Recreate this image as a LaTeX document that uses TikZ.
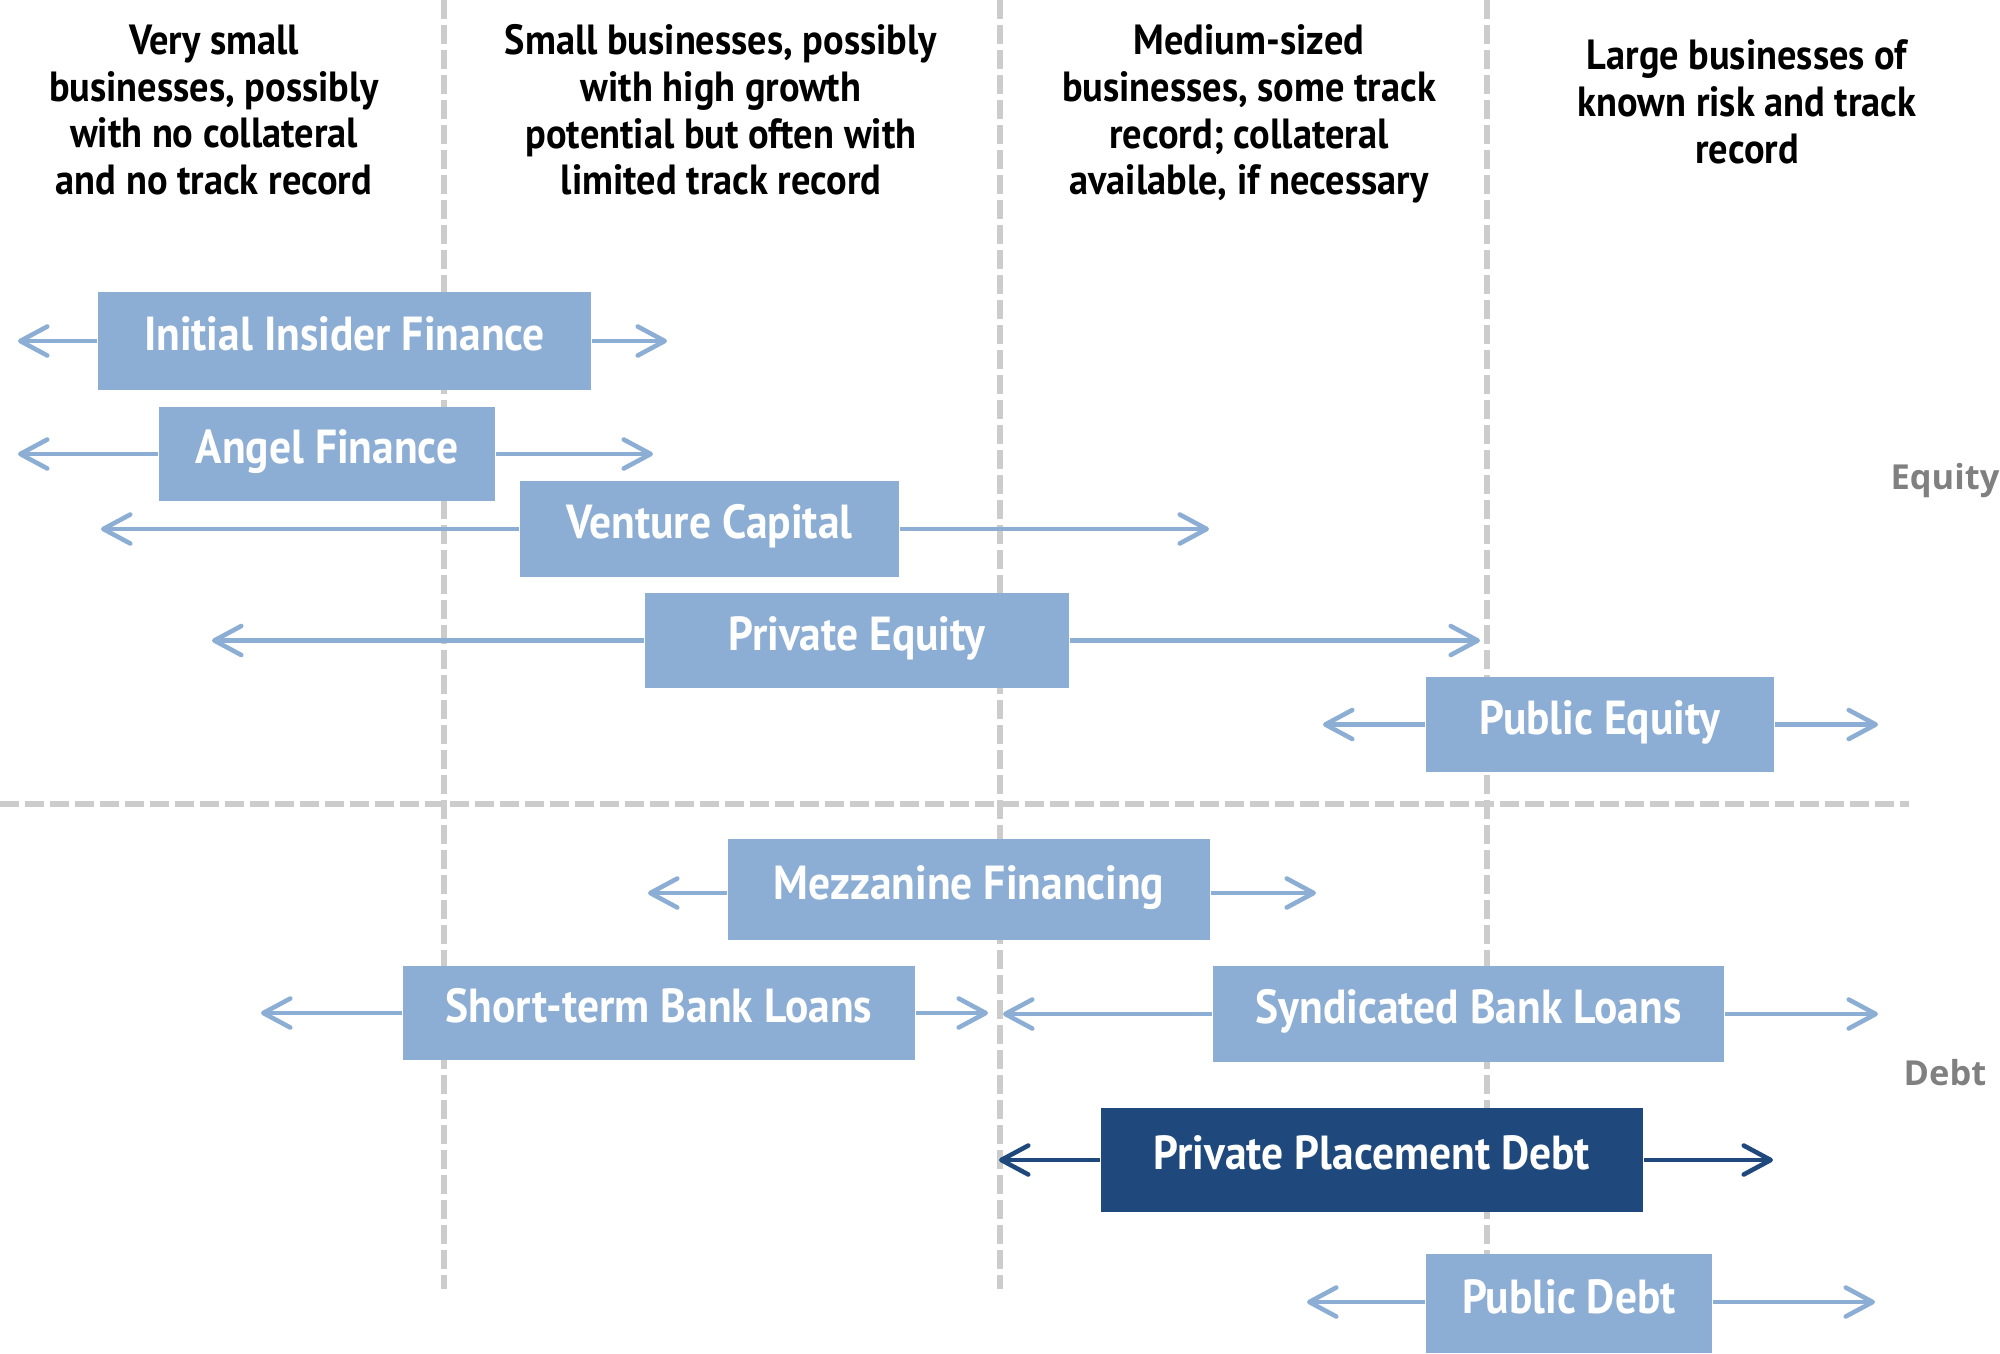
\documentclass[tikz,border=0pt]{standalone}
\usepackage{fontspec}
\setmainfont{PT Sans}
\newfontfamily\hfont[FakeStretch=0.91]{PT Sans}
\newfontfamily\lfont{Open Sans}
\usetikzlibrary{arrows.meta}
\definecolor{lblue}{RGB}{141,174,212}
\definecolor{dblue}{RGB}{31,73,125}
\definecolor{gridgray}{RGB}{204,204,204}
\definecolor{labgray}{RGB}{128,128,128}
\begin{document}
\begin{tikzpicture}[
 gridline/.style={draw=gridgray, line width=1.7pt, dash pattern=on 0.19cm off 0.06cm},
 hdr/.style={align=center, inner sep=0, font=\hfont\bfseries\fontsize{12}{13.3}\selectfont},
 bx/.style={fill=lblue, text=white, inner sep=0, font=\hfont\bfseries\fontsize{13.6}{15}\selectfont, text height=0.32cm, text depth=0.13cm},
 dbx/.style={bx, fill=dblue},
 ar/.style={draw=lblue, line width=1.3pt, -{Straight Barb[length=0.27cm,width=0.29cm,round]}},
 dar/.style={ar, draw=dblue},
 side/.style={inner sep=0, text=labgray, font=\lfont\bfseries\fontsize{9.8}{11}\selectfont},
]
\useasboundingbox (0,0) rectangle (20,-13.53);
% grid
\coordinate (v1t) at (4.44,0);  \coordinate (v1b) at (4.44,-12.89);
\coordinate (v2t) at (10.00,0); \coordinate (v2b) at (10.00,-12.89);
\coordinate (v3t) at (14.87,0); \coordinate (v3b) at (14.87,-12.89);
\coordinate (hl) at (0,-8.04);  \coordinate (hr) at (19.09,-8.04);
\draw[gridline] (v1t) -- (v1b);
\draw[gridline] (v2t) -- (v2b);
\draw[gridline] (v3t) -- (v3b);
\draw[gridline] (hl) -- (hr);
% headers
\node[hdr] (h1) at (2.14,-1.10) {Very small\\businesses, possibly\\with no collateral\\and no track record};
\node[hdr] (h2) at (7.21,-1.10) {Small businesses, possibly\\with high growth\\potential but often with\\limited track record};
\node[hdr] (h3) at (12.49,-1.14) {Medium-sized\\businesses, some track\\record; collateral\\available, if necessary};
\node[hdr] (h4) at (17.47,-1.02) {Large businesses of\\known risk and track\\record};
% side labels
\node[side] (eq) at (19.45,-4.81) {Equity};
\node[side] (db) at (19.45,-10.73) {Debt};
% arrow end points
\coordinate (iifL) at (0.18,-3.41);  \coordinate (iifR) at (6.67,-3.41);
\coordinate (angL) at (0.18,-4.54);  \coordinate (angR) at (6.53,-4.54);
\coordinate (vcL) at (1.01,-5.29);   \coordinate (vcR) at (12.09,-5.29);
\coordinate (peL) at (2.12,-6.405);  \coordinate (peR) at (14.80,-6.405);
\coordinate (pqL) at (13.23,-7.245); \coordinate (pqR) at (18.78,-7.245);
\coordinate (mzL) at (6.48,-8.93);   \coordinate (mzR) at (13.16,-8.93);
\coordinate (stL) at (2.61,-10.13);  \coordinate (stR) at (9.88,-10.13);
\coordinate (syL) at (10.03,-10.14); \coordinate (syR) at (18.78,-10.14);
\coordinate (ppL) at (9.99,-11.60);  \coordinate (ppR) at (17.73,-11.60);
\coordinate (pdL) at (13.07,-13.02); \coordinate (pdR) at (18.75,-13.02);
% boxes
\node[bx, minimum width=4.93cm, minimum height=0.98cm] (iif) at (3.445,-3.41) {Initial Insider Finance};
\node[bx, minimum width=3.36cm, minimum height=0.94cm] (ang) at (3.27,-4.54) {Angel Finance};
\node[bx, minimum width=3.79cm, minimum height=0.96cm] (vc) at (7.095,-5.29) {Venture Capital};
\node[bx, minimum width=4.24cm, minimum height=0.95cm] (pe) at (8.57,-6.405) {Private Equity};
\node[bx, minimum width=3.48cm, minimum height=0.95cm] (pq) at (16.00,-7.245) {Public Equity};
\node[bx, minimum width=4.82cm, minimum height=1.01cm] (mz) at (9.69,-8.895) {Mezzanine Financing};
\node[bx, minimum width=5.12cm, minimum height=0.94cm] (st) at (6.59,-10.13) {Short-term Bank Loans};
\node[bx, minimum width=5.11cm, minimum height=0.96cm] (sy) at (14.685,-10.14) {Syndicated Bank Loans};
\node[dbx, minimum width=5.42cm, minimum height=1.04cm] (pp) at (13.72,-11.60) {Private Placement Debt};
\node[bx, minimum width=2.86cm, minimum height=0.99cm] (pd) at (15.69,-13.035) {Public Debt};
% arrows
\draw[ar] (iif.west) -- (iifL); \draw[ar] (iif.east) -- (iifR);
\draw[ar] (ang.west) -- (angL); \draw[ar] (ang.east) -- (angR);
\draw[ar] (vc.west) -- (vcL);   \draw[ar] (vc.east) -- (vcR);
\draw[ar] (pe.west) -- (peL);   \draw[ar] (pe.east) -- (peR);
\draw[ar] (pq.west) -- (pqL);   \draw[ar] (pq.east) -- (pqR);
\draw[ar] (mz.west |- mzL) -- (mzL); \draw[ar] (mz.east |- mzR) -- (mzR);
\draw[ar] (st.west) -- (stL);   \draw[ar] (st.east) -- (stR);
\draw[ar] (sy.west) -- (syL);   \draw[ar] (sy.east) -- (syR);
\draw[dar] (pp.west) -- (ppL);  \draw[dar] (pp.east) -- (ppR);
\draw[ar] (pd.west |- pdL) -- (pdL); \draw[ar] (pd.east |- pdR) -- (pdR);
\end{tikzpicture}
\end{document}
